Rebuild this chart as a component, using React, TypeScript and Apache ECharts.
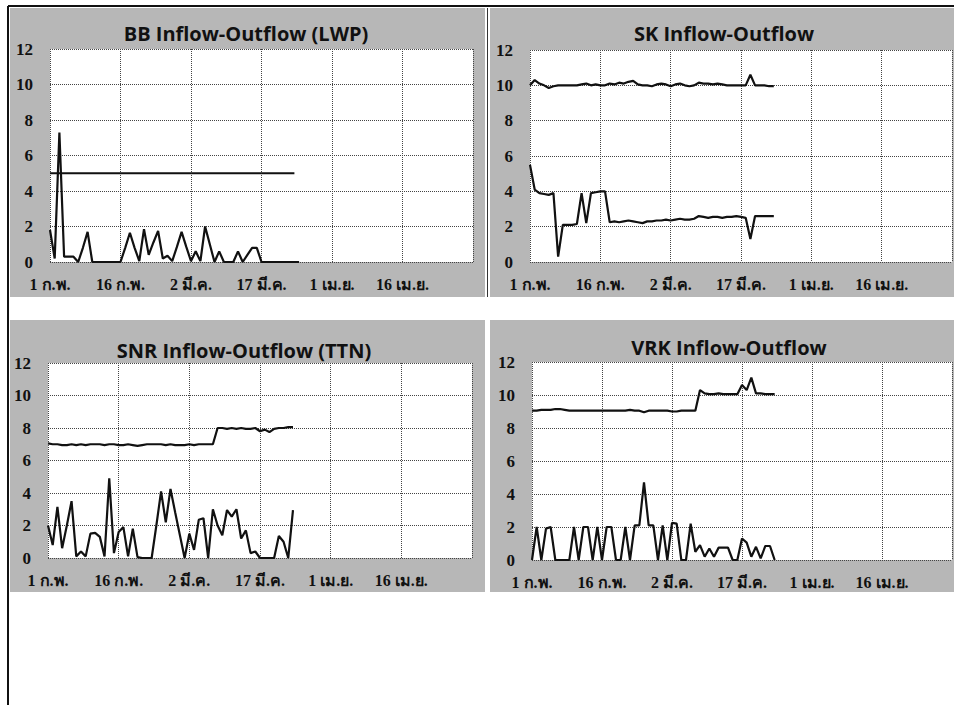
import React, { useEffect, useRef } from "react";
import * as echarts from "echarts";

// ---------- data ----------
const tickLabels = ["1 ก.พ.", "16 ก.พ.", "2 มี.ค.", "17 มี.ค.", "1 เม.ย.", "16 เม.ย."];
const titles = [
  "BB Inflow-Outflow (LWP)",
  "SK Inflow-Outflow",
  "SNR Inflow-Outflow (TTN)",
  "VRK Inflow-Outflow",
];

const bbInflow = [
  1.8, 0.2, 7.3, 0.3, 0.3, 0.3, 0.0, 0.8, 1.7, 0.0,
  0, 0, 0, 0, 0, 0, 0.8, 1.65, 0.8, 0.05,
  1.85, 0.4, 1.1, 1.75, 0.2, 0.35, 0.05, 0.85, 1.7, 0.85,
  0.05, 0.6, 0.05, 2.0, 1.0, 0.0, 0.6, 0, 0, 0,
  0.6, 0, 0.4, 0.8, 0.8, 0, 0, 0, 0, 0,
  0, 0, 0, 0,
];
const bbOutflow = [
  5, 5, 5, 5, 5, 5, 5, 5, 5, 5,
  5, 5, 5, 5, 5, 5, 5, 5, 5, 5,
  5, 5, 5, 5, 5, 5, 5, 5, 5, 5,
  5, 5, 5, 5, 5, 5, 5, 5, 5, 5,
  5, 5, 5, 5, 5, 5, 5, 5, 5, 5,
  5, 5, 5,
];

const skOutflow = [
  10.0, 10.3, 10.1, 10.0, 9.85, 9.95, 10.0, 10.0, 10.0, 10.0,
  10.0, 10.05, 10.1, 10.0, 10.05, 10.0, 10.0, 10.1, 10.05, 10.15,
  10.1, 10.2, 10.25, 10.05, 10.0, 10.0, 9.95, 10.05, 10.1, 10.05,
  9.95, 10.05, 10.1, 10.0, 9.95, 10.0, 10.15, 10.1, 10.1, 10.05,
  10.1, 10.05, 10.0, 10.0, 10.0, 10.0, 10.0, 10.6, 10.0, 10.0,
  10.0, 9.95, 9.95,
];
const skInflow = [
  5.5, 4.1, 3.9, 3.85, 3.8, 3.9, 0.3, 2.1, 2.1, 2.1,
  2.15, 3.9, 2.2, 3.9, 3.95, 4.0, 4.0, 2.25, 2.3, 2.25,
  2.3, 2.35, 2.3, 2.25, 2.2, 2.3, 2.3, 2.35, 2.35, 2.4,
  2.35, 2.4, 2.45, 2.4, 2.4, 2.45, 2.6, 2.55, 2.5, 2.55,
  2.55, 2.5, 2.55, 2.55, 2.6, 2.55, 2.5, 1.3, 2.6, 2.6,
  2.6, 2.6, 2.6,
];

const snrOutflow = [
  7.05, 7.0, 7.0, 6.95, 6.95, 7.0, 6.95, 7.0, 6.95, 7.0,
  7.0, 7.0, 6.95, 7.0, 7.0, 6.95, 6.95, 7.0, 6.95, 6.9,
  6.95, 7.0, 7.0, 7.0, 7.0, 6.95, 7.0, 6.95, 6.95, 6.95,
  7.0, 6.95, 7.0, 7.0, 7.0, 7.0, 8.0, 8.0, 7.95, 8.0,
  7.95, 8.0, 7.95, 7.95, 8.0, 7.8, 7.9, 7.75, 7.95, 8.0,
  8.0, 8.05, 8.05,
];
const snrInflow = [
  2.0, 0.8, 3.15, 0.6, 2.0, 3.5, 0.1, 0.4, 0.1, 1.5,
  1.55, 1.3, 0.1, 4.9, 0.3, 1.6, 1.9, 0.1, 1.8, 0.05,
  0, 0, 0, 2.0, 4.1, 2.2, 4.25, 2.8, 1.4, 0,
  1.5, 0.5, 2.35, 2.45, 0, 3.0, 2.0, 1.4, 2.95, 2.55,
  3.0, 1.2, 1.7, 0.3, 0.4, 0, 0, 0, 0, 1.35,
  1.0, 0, 2.95,
];

const vrkOutflow = [
  9.05, 9.05, 9.1, 9.1, 9.1, 9.15, 9.15, 9.1, 9.05, 9.05,
  9.05, 9.05, 9.05, 9.05, 9.05, 9.05, 9.05, 9.05, 9.05, 9.05,
  9.05, 9.1, 9.05, 9.05, 8.95, 9.05, 9.05, 9.05, 9.05, 9.05,
  9.0, 9.0, 9.05, 9.05, 9.05, 9.05, 10.3, 10.1, 10.05, 10.05,
  10.1, 10.05, 10.05, 10.05, 10.05, 10.6, 10.3, 11.05, 10.1, 10.1,
  10.05, 10.05, 10.05,
];
const vrkInflow = [
  0, 2.0, 0, 1.9, 2.0, 0, 0, 0, 0, 2.0,
  0, 2.0, 2.0, 0, 2.0, 0, 2.0, 2.0, 0, 0,
  2.0, 0, 2.1, 2.1, 4.7, 2.1, 2.1, 0, 2.1, 0,
  2.25, 2.2, 0, 0, 2.2, 0.5, 0.9, 0.2, 0.7, 0.2,
  0.75, 0.75, 0.75, 0, 0, 1.3, 1.05, 0.2, 0.8, 0.1,
  0.85, 0.85, 0,
];

const panelSeries = [
  [bbOutflow, bbInflow],
  [skOutflow, skInflow],
  [snrOutflow, snrInflow],
  [vrkOutflow, vrkInflow],
];

// ---------- layout ----------
const panels = [
  { x: 10, y: 8, w: 475, h: 289, grid: { left: 50, right: 481, top: 49, bottom: 458 }, tx: 246, ty: 33 },
  { x: 490, y: 8, w: 464, h: 289, grid: { left: 530, right: 2, top: 50, bottom: 458 }, tx: 724, ty: 33 },
  { x: 10, y: 320, w: 475, h: 272, grid: { left: 48, right: 482, top: 363, bottom: 162 }, tx: 244, ty: 350 },
  { x: 490, y: 320, w: 464, h: 272, grid: { left: 532, right: 2, top: 362, bottom: 160 }, tx: 729, ty: 347 },
];

const labelFont = "'Liberation Serif', 'DejaVu Serif', serif";
const titleFont = "'Open Sans', 'Noto Sans', sans-serif";

export default function App() {
  const ref = useRef<HTMLDivElement>(null);
  useEffect(() => {
    if (!ref.current) return;
    const chart = echarts.init(ref.current, null, { renderer: "svg" });
    const graphics: any[] = [];
    panels.forEach((p, i) => {
      graphics.push({
        type: "rect",
        z: -10,
        shape: { x: p.x, y: p.y, width: p.w, height: p.h },
        style: { fill: "#b7b7b7" },
      });
      graphics.push({
        type: "text",
        x: p.tx,
        y: p.ty,
        style: {
          text: titles[i],
          fill: "#111",
          font: `bold 20px ${titleFont}`,
          align: "center",
          verticalAlign: "middle",
        },
      });
    });
    graphics.push({ type: "line", shape: { x1: 8, y1: 6, x2: 954, y2: 6 }, style: { stroke: "#111", lineWidth: 2 } });
    graphics.push({ type: "line", shape: { x1: 8, y1: 6, x2: 8, y2: 705 }, style: { stroke: "#111", lineWidth: 2 } });
    graphics.push({ type: "line", shape: { x1: 487.5, y1: 8, x2: 487.5, y2: 297 }, style: { stroke: "#333", lineWidth: 1 } });

    const grids = panels.map((p) => ({
      ...p.grid,
      show: true,
      backgroundColor: "#ffffff",
      borderWidth: 0,
    }));
    const splitLine = { show: true, lineStyle: { color: "#444", type: "dotted", width: 1 } };
    const xAxes = panels.map((_, i) => ({
      type: "value",
      gridIndex: i,
      min: 0,
      max: 90,
      interval: 15,
      axisLine: { show: false },
      axisTick: { show: false },
      splitLine,
      axisLabel: {
        margin: 14,
        color: "#111",
        fontWeight: "bold",
        fontSize: 16,
        fontFamily: labelFont,
        showMaxLabel: false,
        formatter: (v: number) => tickLabels[Math.round(v / 15)] ?? "",
      },
    }));
    const yAxes = panels.map((_, i) => ({
      type: "value",
      gridIndex: i,
      min: 0,
      max: 12,
      interval: 2,
      axisLine: { show: false },
      axisTick: { show: false },
      splitLine,
      axisLabel: {
        margin: 17,
        color: "#111",
        fontWeight: "bold",
        fontSize: 17,
        fontFamily: labelFont,
      },
    }));
    const series: any[] = [];
    panelSeries.forEach((pair, i) => {
      pair.forEach((arr, k) => {
        series.push({
          type: "line",
          xAxisIndex: i,
          yAxisIndex: i,
          data: arr.map((v, d) => [d, v]),
          showSymbol: false,
          symbol: "none",
          lineStyle: { color: "#111", width: 2.2 },
          z: 3 + k,
        });
      });
    });
    chart.setOption({
      animation: false,
      backgroundColor: "#ffffff",
      grid: grids,
      xAxis: xAxes,
      yAxis: yAxes,
      series,
      graphic: graphics,
    });
    return () => chart.dispose();
  }, []);
  return (
    <div
      ref={ref}
      style={{ position: "fixed", left: 0, top: 0, width: 954, height: 720 }}
    />
  );
}
